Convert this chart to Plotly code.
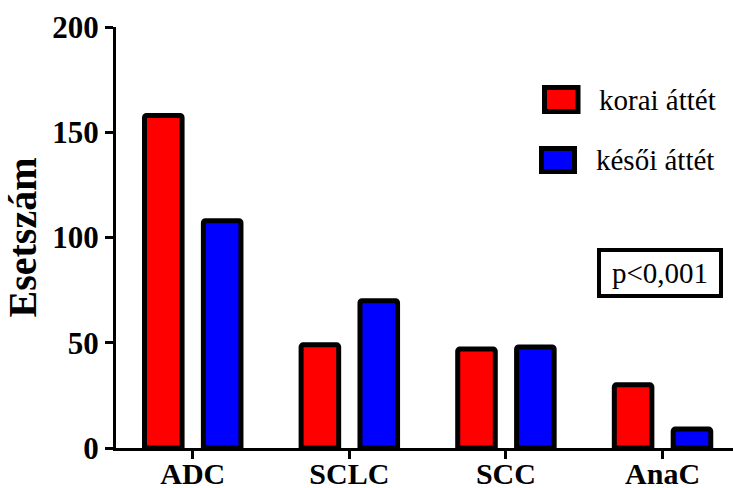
import plotly.graph_objects as go

categories = ["ADC", "SCLC", "SCC", "AnaC"]
series_names = ["korai áttét", "késői áttét"]
korai = [158, 49, 47, 30]
kesoi = [108, 70, 48, 9]
series_colors = ["#FF0000", "#0000FF"]
y_ticks = [0, 50, 100, 150, 200]
y_title = "Esetszám"
p_text = "p<0,001"

W, H = 733, 488
L, R, T, B = 116, 0, 27, 40
PW, PH = W - L - R, H - T - B

def px(x):
    return (x - L) / PW

def py(y):
    return (H - B - y) / PH

FONT = "Liberation Serif"

fig = go.Figure()
for name, vals, col in zip(series_names, [korai, kesoi], series_colors):
    fig.add_trace(go.Bar(
        x=categories, y=vals, name=name,
        marker=dict(color=col, line=dict(color="black", width=5), cornerradius=2),
        showlegend=False,
    ))

fig.update_layout(
    width=W, height=H,
    margin=dict(l=L, r=R, t=T, b=B, autoexpand=False),
    paper_bgcolor="white", plot_bgcolor="white",
    barmode="group", bargap=0.248, bargroupgap=0.362,
    font=dict(family=FONT, color="black"),
)
fig.update_xaxes(
    range=[-0.49, 3.45], showline=True, linecolor="black", linewidth=3,
    ticks="outside", ticklen=8, tickwidth=3, tickcolor="black",
    tickfont=dict(family=FONT, size=30, color="black", weight="bold"),
    ticklabelstandoff=-11,
    showgrid=False, zeroline=False, fixedrange=True,
)
fig.update_yaxes(
    range=[0, 200], tickvals=y_ticks, showline=True, linecolor="black", linewidth=3,
    ticks="outside", ticklen=8, tickwidth=3, tickcolor="black",
    tickfont=dict(family=FONT, size=31, color="black", weight="bold"),
    showgrid=False, zeroline=False, automargin=False,
    title=dict(text=y_title, font=dict(family=FONT, size=40, color="black", weight="bold"), standoff=4),
)

# legend drawn manually
rows = [((544.5, 87.5, 578, 111.5), 597, 100), ((541.5, 148.5, 574.5, 171.5), 594, 160)]
for i, ((x0, y0, x1, y1), tx, ty) in enumerate(rows):
    fig.add_shape(type="rect", xref="paper", yref="paper",
                  x0=px(x0), x1=px(x1), y0=py(y1), y1=py(y0),
                  line=dict(color="black", width=5), fillcolor=series_colors[i])
    fig.add_annotation(xref="paper", yref="paper", x=px(tx), y=py(ty),
                       text=series_names[i], showarrow=False, xanchor="left", yanchor="middle",
                       font=dict(family=FONT, size=29, color="black"))

fig.add_shape(type="rect", xref="paper", yref="paper",
              x0=px(599), x1=px(721), y0=py(296), y1=py(250),
              line=dict(color="black", width=4), fillcolor="white")
fig.add_annotation(xref="paper", yref="paper", x=px(660), y=py(273),
                   text=p_text, showarrow=False, xanchor="center", yanchor="middle",
                   font=dict(family=FONT, size=29, color="black"))

fig.write_html("out.html", config={"displayModeBar": False},
               post_script="document.body.style.margin='0';document.body.style.overflow='hidden';")
